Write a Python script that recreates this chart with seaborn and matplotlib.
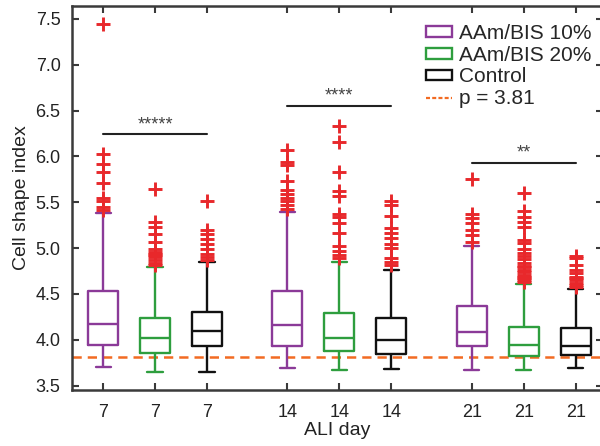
import numpy as np
import pandas as pd
import matplotlib
matplotlib.use("Agg")
import matplotlib.pyplot as plt
from matplotlib.patches import Rectangle
from matplotlib.lines import Line2D
import seaborn as sns

# ---- data -------------------------------------------------------------
days = ["7", "14", "21"]
groups = ["AAm/BIS 10%", "AAm/BIS 20%", "Control"]

# five-number summaries, ordered day by day, group by group
whisker_low = [3.707, 3.646, 3.646, 3.690, 3.668, 3.679, 3.668, 3.671, 3.690]
quartile_1 = [3.944, 3.853, 3.930, 3.933, 3.878, 3.846, 3.936, 3.824, 3.835]
medians = [4.170, 4.020, 4.100, 4.162, 4.023, 3.998, 4.082, 3.944, 3.936]
quartile_3 = [4.536, 4.240, 4.300, 4.536, 4.290, 4.235, 4.372, 4.137, 4.126]
whisker_high = [5.387, 4.794, 4.850, 5.398, 4.846, 4.762, 5.023, 4.606, 4.555]

outliers = [
    [7.44, 6.03, 5.92, 5.83, 5.71, 5.55, 5.51, 5.45, 5.42],
    [5.64, 5.29, 5.23, 5.15, 5.07, 4.99, 4.96, 4.94, 4.92, 4.90, 4.87, 4.84, 4.82],
    [5.51, 5.20, 5.15, 5.10, 5.05, 4.99, 4.94, 4.90, 4.87],
    [6.07, 5.94, 5.91, 5.73, 5.63, 5.59, 5.55, 5.51, 5.47, 5.43],
    [6.33, 6.16, 5.83, 5.62, 5.57, 5.37, 5.34, 5.27, 5.17, 5.02, 4.97, 4.93, 4.89],
    [5.51, 5.47, 5.35, 5.22, 5.17, 5.11, 5.05, 5.00, 4.89, 4.85, 4.82],
    [5.75, 5.37, 5.33, 5.27, 5.20, 5.14, 5.07],
    [5.60, 5.40, 5.34, 5.29, 5.23, 5.09, 5.06, 4.99, 4.95, 4.91, 4.88, 4.84,
     4.80, 4.79, 4.76, 4.74, 4.71, 4.69, 4.67, 4.65, 4.63],
    [4.91, 4.89, 4.82, 4.76, 4.73, 4.69, 4.67, 4.65, 4.62, 4.60, 4.58],
]

p_threshold = 3.81
sig_levels = [6.24, 6.55, 5.93]
sig_labels = ["*****", "****", "**"]

# ---- styling ------------------------------------------------------------
palette = {"AAm/BIS 10%": "#8B3A98", "AAm/BIS 20%": "#2E9E3E", "Control": "#111111"}
flier_color = "#E8282B"
thresh_color = "#F26B22"
spine_color = "#3A3A3A"
group_width = 0.846

sns.set_style("ticks")
plt.rcParams["font.family"] = ["Liberation Sans", "DejaVu Sans"]

# long table: one row per summary value
rows = []
k = 0
for day in days:
    for grp in groups:
        for v in (whisker_low[k], quartile_1[k], medians[k], quartile_3[k], whisker_high[k]):
            rows.append({"day": day, "group": grp, "value": v})
        k += 1
df = pd.DataFrame(rows)

# outlier table with dodged x positions matching the boxes
out_rows = []
k = 0
for di, day in enumerate(days):
    for gi, grp in enumerate(groups):
        xpos = di + (gi - 1) * group_width / len(groups)
        for v in outliers[k]:
            out_rows.append({"x": xpos, "value": v})
        k += 1
df_out = pd.DataFrame(out_rows)

fig = plt.figure(figsize=(6.0, 4.46), dpi=100)
ax = fig.add_axes([0.1195, 0.1256, 0.8855, 0.8609])

sns.boxplot(data=df, x="day", y="value", hue="group", order=days,
            hue_order=groups, palette=palette, fill=False, width=group_width,
            gap=0.42, whis=(0, 100), linewidth=1.7, legend=False, ax=ax)

ax.axhline(p_threshold, color=thresh_color, lw=1.8, dashes=(3.7, 2.4), zorder=1)

sns.scatterplot(data=df_out, x="x", y="value", marker="+", color=flier_color,
                s=90, linewidth=2.1, ax=ax, zorder=5, legend=False)

# significance bars spanning each day's three boxes
for di, (lvl, lab) in enumerate(zip(sig_levels, sig_labels)):
    x0 = di - group_width / len(groups)
    x1 = di + group_width / len(groups)
    ax.plot([x0, x1], [lvl, lvl], color="#222222", lw=1.5)
    ax.annotate(lab, xy=(di, lvl), xytext=(0, 1), textcoords="offset points",
                ha="center", va="bottom", fontsize=13, color="#444444")

# axes, ticks and labels
tick_pos = [di + (gi - 1) * group_width / len(groups)
            for di in range(len(days)) for gi in range(len(groups))]
tick_lab = [day for day in days for _ in groups]
ax.set_xticks(tick_pos)
ax.set_xticklabels(tick_lab)
ax.set_xlim(-0.452, 2.43)
ax.set_ylim(3.453, 7.64)
ax.set_yticks(np.arange(3.5, 7.51, 0.5))
ax.set_yticklabels([f"{t:.1f}" for t in np.arange(3.5, 7.51, 0.5)])
ax.set_xlabel("ALI day", fontsize=14, color="#222222", labelpad=1)
ax.set_ylabel("Cell shape index", fontsize=14, color="#222222", labelpad=4)

for side in ["left", "right", "top", "bottom"]:
    ax.spines[side].set_visible(True)
    ax.spines[side].set_color(spine_color)
    ax.spines[side].set_linewidth(1.8)
ax.tick_params(axis="both", direction="in", top=True, right=True, length=5,
               width=1.5, color=spine_color, labelsize=13, labelcolor="#222222")
ax.tick_params(axis="x", pad=10)
ax.tick_params(axis="y", pad=8)

handles = [Rectangle((0, 0), 1, 1, facecolor="none", edgecolor=palette[g], lw=1.7)
           for g in groups]
handles.append(Line2D([0], [0], color=thresh_color, lw=1.6, dashes=(1.8, 1.0)))
labels = groups + [f"p = {p_threshold}"]
ax.legend(handles, labels, loc="upper left", bbox_to_anchor=(426 / 600, 1 - 24 / 446),
          bbox_transform=fig.transFigure, frameon=False, fontsize=15,
          borderpad=0, borderaxespad=0, handlelength=1.25, handleheight=0.42,
          handletextpad=0.35, labelspacing=0.13)

fig.savefig("out.png", dpi=100)
